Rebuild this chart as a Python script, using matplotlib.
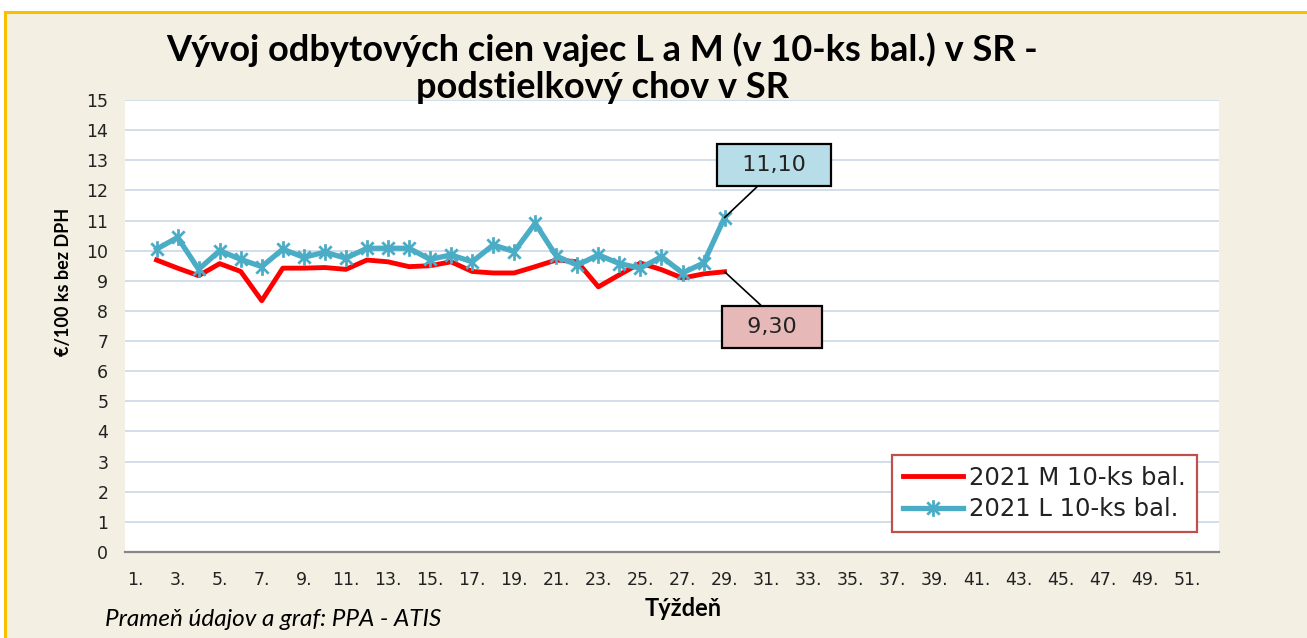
import numpy as np
import matplotlib
matplotlib.use('Agg')
import matplotlib.pyplot as plt
from matplotlib.path import Path
from matplotlib.patches import Rectangle

# data
weeks = list(range(2, 30))
price_m = [9.69, 9.42, 9.17, 9.57, 9.31, 8.34, 9.42, 9.42, 9.44, 9.38, 9.69, 9.63, 9.47, 9.50,
           9.63, 9.31, 9.26, 9.26, 9.47, 9.69, 9.63, 8.80, 9.20, 9.59, 9.37, 9.09, 9.23, 9.30]
price_l = [10.05, 10.44, 9.38, 10.00, 9.71, 9.47, 10.05, 9.78, 9.95, 9.75, 10.08, 10.08, 10.08, 9.71,
           9.86, 9.63, 10.19, 9.97, 10.91, 9.82, 9.52, 9.86, 9.57, 9.42, 9.80, 9.26, 9.59, 11.10]
all_weeks = list(range(1, 53))
week_labels = [f'{w}.' if w % 2 == 1 else '' for w in all_weeks]
label_m = '2021 M 10-ks bal.'
label_l = '2021 L 10-ks bal.'

narrow = ['Lato', 'DejaVu Sans']
beige = '#F3EFE3'

fig = plt.figure(figsize=(13.07, 6.38), dpi=100, facecolor='white')
# beige panel with orange frame (top and left edges visible)
fig.patches.append(Rectangle((5 / 1307, -0.1), 1.2, 1.1 - 12 / 638, transform=fig.transFigure,
                             facecolor=beige, edgecolor='#F8C000', lw=2.2, zorder=-1))

ax = fig.add_axes([125 / 1307, 1 - 552 / 638, 1094 / 1307, 452 / 638])
ax.set_zorder(1)
ax.set_facecolor('white')

# asterisk marker (x with vertical bar)
star = Path([(-1, -1), (1, 1), (-1, 1), (1, -1), (0, -1.35), (0, 1.35)],
            [Path.MOVETO, Path.LINETO, Path.MOVETO, Path.LINETO, Path.MOVETO, Path.LINETO])

ax.plot(weeks, price_m, color='#FF0000', lw=3.5, label=label_m, zorder=3)
ax.plot(weeks, price_l, color='#4BACC6', lw=3.8, marker=star, markersize=12, markeredgewidth=2,
        markeredgecolor='#4BACC6', label=label_l, zorder=4)

ax.set_xlim(0.5, 52.5)
ax.set_ylim(0, 15)
ax.set_yticks(range(0, 16))
ax.set_xticks(all_weeks)
ax.set_xticklabels(week_labels)
ax.tick_params(length=0, labelsize=12.5, colors='#222222')
ax.tick_params(axis='x', pad=14)
ax.tick_params(axis='y', pad=12)
ax.grid(axis='y', color='#C6D4E6', lw=1.1)
ax.set_axisbelow(True)
for s in ['top', 'right', 'left']:
    ax.spines[s].set_visible(False)
ax.spines['bottom'].set_color('#868686')
ax.spines['bottom'].set_linewidth(1.6)

# value callouts
ax.annotate('  11,10  ', xy=(weeks[-1], price_l[-1]), xytext=(31.35, 12.84), fontsize=16,
            ha='center', va='center', color='#222222',
            bbox=dict(boxstyle='square,pad=0.5', fc='#B7DEE8', ec='black', lw=1.6),
            arrowprops=dict(arrowstyle='-', color='black', lw=1.2, relpos=(0.45, 0),
                            shrinkA=0, shrinkB=0), zorder=6)
ax.annotate('  9,30  ', xy=(weeks[-1], price_m[-1]), xytext=(31.25, 7.47), fontsize=16,
            ha='center', va='center', color='#222222',
            bbox=dict(boxstyle='square,pad=0.5', fc='#E6B9B8', ec='black', lw=1.6),
            arrowprops=dict(arrowstyle='-', color='black', lw=1.2, relpos=(0.52, 1),
                            shrinkA=0, shrinkB=0), zorder=6)

leg = ax.legend(loc='lower right', bbox_to_anchor=(0.98, 0.044), borderaxespad=0,
                fontsize=17.5, frameon=True, fancybox=False, framealpha=1, edgecolor='#C0504D',
                handlelength=2.5, handletextpad=0.25, labelspacing=0.3, borderpad=0.45,
                labelcolor='#222222')
leg.get_frame().set_linewidth(1.6)

fig.text(602 / 1307, 1 - 50 / 638, 'Vývoj odbytových cien vajec L a M (v 10-ks bal.) v SR -',
         family=narrow, fontsize=26, fontweight='bold', ha='center', va='center')
fig.text(602 / 1307, 1 - 87 / 638, 'podstielkový chov v SR',
         family=narrow, fontsize=26, fontweight='bold', ha='center', va='center')
fig.text(63 / 1307, 1 - 282 / 638, '€/100 ks bez DPH', family=narrow, fontsize=13,
         fontweight='bold', rotation=90, ha='center', va='center')
fig.text(683 / 1307, 1 - 609 / 638, 'Týždeň', family=narrow, fontsize=17,
         fontweight='bold', ha='center', va='center')
fig.text(105 / 1307, 1 - 620 / 638, 'Prameň údajov a graf: PPA - ATIS', family=narrow,
         fontsize=17.5, style='italic', ha='left', va='center')

fig.savefig('out.png', dpi=100, facecolor=fig.get_facecolor())
